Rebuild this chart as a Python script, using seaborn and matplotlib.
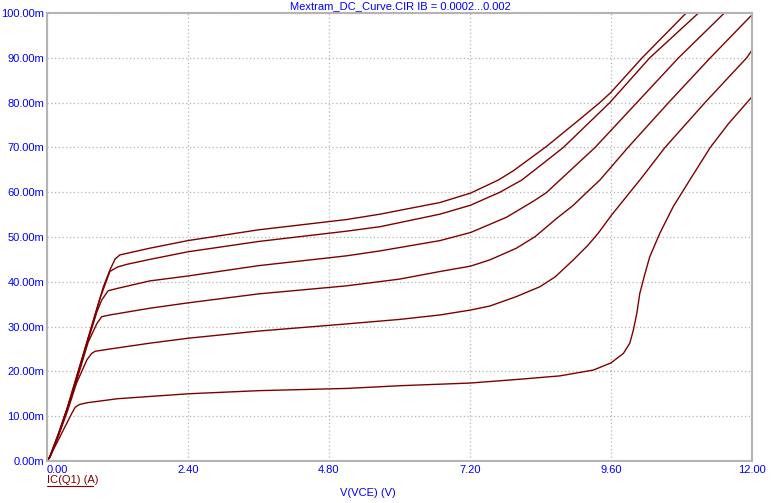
import numpy as np
import pandas as pd
import matplotlib
matplotlib.use("Agg")
import matplotlib.pyplot as plt
import seaborn as sns

# V(VCE) in volts, IC in mA for six base-current steps
v1 = [0.0, 0.05, 0.22, 0.42, 0.48, 0.55, 0.68, 1.2, 2.4, 3.6, 5.1, 6.0, 7.2, 8.0, 8.73, 9.3, 9.6, 9.81, 9.92, 9.98, 10.04, 10.09, 10.18, 10.26, 10.43, 10.66, 10.94, 11.29, 11.6, 12.0]
i1 = [0.0, 1.0, 5.4, 10.6, 12.0, 12.6, 13.0, 13.9, 15.0, 15.7, 16.2, 16.8, 17.4, 18.2, 19.0, 20.3, 21.9, 24.0, 26.3, 29.2, 33.0, 37.4, 41.9, 45.6, 50.8, 56.8, 62.7, 70.0, 75.3, 81.3]

v2 = [0.0, 0.05, 0.2, 0.35, 0.5, 0.68, 0.76, 0.82, 1.07, 1.75, 2.4, 3.6, 5.1, 6.0, 6.69, 7.21, 7.54, 7.99, 8.39, 8.65, 8.96, 9.21, 9.38, 9.61, 10.12, 10.52, 11.2, 11.91, 12.0]
i2 = [0.0, 0.8, 5.8, 11.2, 17.3, 22.6, 24.0, 24.5, 25.0, 26.3, 27.4, 29.0, 30.6, 31.6, 32.6, 33.7, 34.6, 36.7, 38.9, 41.1, 44.9, 48.2, 50.8, 54.9, 63.2, 70.0, 80.0, 90.0, 91.7]

v3 = [0.0, 0.05, 0.2, 0.35, 0.5, 0.7, 0.85, 0.93, 1.07, 1.75, 2.4, 3.6, 5.1, 6.0, 6.69, 7.21, 7.54, 7.99, 8.31, 8.68, 8.96, 9.19, 9.41, 9.89, 10.58, 11.29, 12.0]
i3 = [0.0, 0.9, 6.0, 11.6, 17.8, 26.5, 30.7, 32.2, 32.6, 34.1, 35.3, 37.3, 39.1, 40.6, 42.3, 43.5, 44.9, 47.5, 50.1, 54.2, 57.1, 60.0, 62.7, 70.0, 80.0, 90.0, 99.6]

v4 = [0.0, 0.05, 0.2, 0.35, 0.5, 0.7, 0.85, 0.93, 1.04, 1.19, 1.75, 2.4, 3.6, 5.1, 5.67, 6.69, 7.21, 7.82, 8.28, 8.5, 8.73, 9.33, 10.04, 10.75, 11.53]
i4 = [0.0, 1.0, 6.1, 11.8, 18.2, 27.0, 33.3, 35.9, 38.0, 38.5, 40.2, 41.3, 43.6, 45.8, 46.9, 49.2, 51.0, 54.4, 58.0, 59.9, 62.7, 70.0, 80.0, 90.0, 100.0]

v5 = [0.0, 0.05, 0.2, 0.35, 0.5, 0.7, 0.9, 1.07, 1.2, 1.36, 1.75, 2.4, 3.6, 5.1, 5.67, 6.69, 7.21, 7.71, 8.08, 8.5, 8.79, 9.58, 10.26, 11.09]
i5 = [0.0, 1.0, 6.2, 12.0, 18.5, 27.3, 36.2, 42.3, 43.3, 43.9, 45.0, 46.7, 49.0, 51.3, 52.3, 55.1, 57.1, 60.0, 62.7, 67.0, 70.0, 80.0, 90.0, 100.0]

v6 = [0.0, 0.05, 0.2, 0.35, 0.5, 0.7, 0.96, 1.07, 1.16, 1.24, 1.41, 1.75, 2.4, 3.6, 5.1, 5.67, 6.69, 7.21, 7.68, 7.94, 8.5, 9.07, 9.41, 9.6, 10.13, 10.88]
i6 = [0.0, 1.0, 6.3, 12.1, 18.7, 27.5, 38.9, 42.6, 45.1, 46.0, 46.5, 47.5, 49.2, 51.6, 53.9, 55.1, 57.7, 59.8, 62.7, 64.8, 70.2, 76.3, 80.0, 82.3, 90.0, 100.0]

x_ticks = [0.0, 2.4, 4.8, 7.2, 9.6, 12.0]
x_labels = ["0.00", "2.40", "4.80", "7.20", "9.60", "12.00"]
y_ticks = [0, 10, 20, 30, 40, 50, 60, 70, 80, 90, 100]
y_labels = ["0.00m", "10.00m", "20.00m", "30.00m", "40.00m", "50.00m",
            "60.00m", "70.00m", "80.00m", "90.00m", "100.00m"]

frames = []
for k, (v, i) in enumerate([(v1, i1), (v2, i2), (v3, i3), (v4, i4), (v5, i5), (v6, i6)]):
    frames.append(pd.DataFrame({"V": v, "I": i, "curve": k}))
df = pd.concat(frames, ignore_index=True)

sns.set_style("white")
plt.rcParams['font.family'] = ['Liberation Sans', 'DejaVu Sans']

fig = plt.figure(figsize=(7.76, 5.03), dpi=100)
ax = fig.add_axes([47/776, 1-461/503, (752-47)/776, (461-13)/503])

red = "#800000"
sns.lineplot(data=df, x="V", y="I", hue="curve", sort=False,
             palette=[red]*6, legend=False, linewidth=1.0, ax=ax, estimator=None)

ax.set_xlim(0, 12)
ax.set_ylim(0, 100)
ax.set_xticks(x_ticks)
ax.set_xticklabels(x_labels)
ax.set_yticks(y_ticks)
ax.set_yticklabels(y_labels)
ax.tick_params(axis="both", length=0, labelsize=8, labelcolor="#0000ff")
ax.tick_params(axis="y", pad=2)
ax.tick_params(axis="x", pad=3)
ax.get_xticklabels()[0].set_ha("left")
ax.grid(True, color="#b4b4b4", linestyle=(0, (1, 2)), linewidth=0.9)
for s in ax.spines.values():
    s.set_visible(True)
    s.set_color("#b4b4b4")
    s.set_linewidth(1.5)
ax.set_xlabel("")
ax.set_ylabel("")

fig.text(400/776, 1-6/503, "Mextram_DC_Curve.CIR IB = 0.0002...0.002", color="#0000ff",
         fontsize=8, ha="center", va="center")
fig.text(368/776, 1-493/503, "V(VCE) (V)", color="#0000ff", fontsize=8, ha="center", va="center")
fig.text(47/776, 1-480/503, "IC(Q1) (A)", color=red, fontsize=8, ha="left", va="center")
fig.add_artist(plt.Line2D([47/776, 93/776], [1-486/503, 1-486/503], color=red, linewidth=0.8))

fig.savefig("out.png", dpi=100)
